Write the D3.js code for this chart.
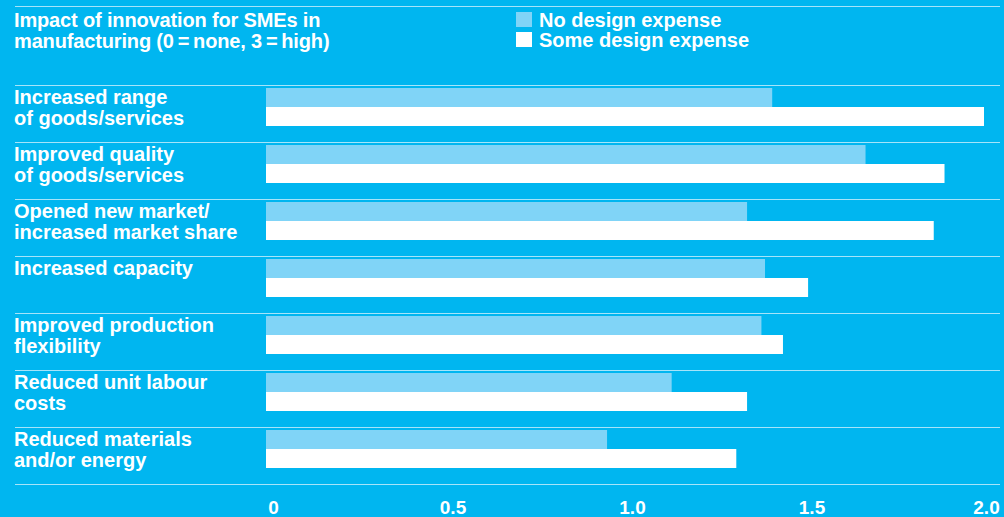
<!DOCTYPE html>
<html>
<head>
<meta charset="utf-8">
<script src="https://cdn.jsdelivr.net/npm/d3@7"></script>
<style>
  body { margin: 0; background: #00b6f0; }
  text { font-family: "Liberation Sans", Arial, sans-serif; font-weight: bold; fill: #fff; }
</style>
</head>
<body>
<script>
var categories = [
  ["Increased range", "of goods/services"],
  ["Improved quality", "of goods/services"],
  ["Opened new market/", "increased market share"],
  ["Increased capacity"],
  ["Improved production", "flexibility"],
  ["Reduced unit labour", "costs"],
  ["Reduced materials", "and/or energy"]
];
var noDesign = [1.41, 1.67, 1.34, 1.39, 1.38, 1.13, 0.95];
var someDesign = [2.00, 1.89, 1.86, 1.51, 1.44, 1.34, 1.31];
var ticks = [0, 0.5, 1.0, 1.5, 2.0];
var seriesNames = ["No design expense", "Some design expense"];

var cols = ["#80d4f7", "#ffffff"];
var lineCol = "#a6e4fa";

var W = 1004, H = 517;
var svg = d3.select('body').append('svg')
  .attr('width', W)
  .attr('height', H);

svg.append('rect').attr('width', W).attr('height', H).attr('fill', '#00b6f0');

var x = d3.scaleLinear()
  .domain([0, 2])
  .range([266, 984]);

var groupTop = 85, groupH = 57;
var y = d3.scaleBand()
  .domain(d3.range(categories.length))
  .range([groupTop, groupTop + groupH * categories.length]);

// top rule
svg.append('line')
  .attr('x1', 15).attr('x2', 1000)
  .attr('y1', 6.5).attr('y2', 6.5)
  .attr('stroke', lineCol).attr('stroke-width', 1.2);

// title
var title = svg.append('text')
  .attr('x', 14).attr('y', 27)
  .style('font-size', '20px')
  .style('letter-spacing', '-0.15px');
title.append('tspan').attr('x', 14).text('Impact of innovation for SMEs in');
title.append('tspan').attr('x', 14).attr('dy', 21).text('manufacturing (0\u2009=\u2009none, 3\u2009=\u2009high)');

// legend
var legend = svg.append('g')
  .selectAll('g')
  .data(seriesNames)
  .enter().append('g')
  .attr('transform', function (d, i) { return 'translate(516,' + (12 + i * 20) + ')'; });

legend.append('rect')
  .attr('width', 16)
  .attr('height', 15)
  .attr('fill', function (d, i) { return cols[i]; });

legend.append('text')
  .attr('x', 23)
  .attr('y', 15)
  .style('font-size', '20px')
  .text(function (d) { return d; });

// separator rules
svg.append('g')
  .selectAll('line')
  .data(d3.range(categories.length + 1))
  .enter().append('line')
  .attr('x1', 15).attr('x2', 1000)
  .attr('y1', function (d) { return groupTop + d * groupH + 0.5; })
  .attr('y2', function (d) { return groupTop + d * groupH + 0.5; })
  .attr('stroke', lineCol)
  .attr('stroke-width', 1.2);

var rows = svg.append('g')
  .selectAll('g')
  .data(categories)
  .enter().append('g')
  .attr('transform', function (d, i) { return 'translate(0,' + y(i) + ')'; });

rows.append('rect')
  .attr('x', x(0))
  .attr('y', 3)
  .attr('height', 19)
  .attr('width', function (d, i) { return x(noDesign[i]) - x(0); })
  .attr('fill', cols[0]);

rows.append('rect')
  .attr('x', x(0))
  .attr('y', 22)
  .attr('height', 19)
  .attr('width', function (d, i) { return x(someDesign[i]) - x(0); })
  .attr('fill', cols[1]);

var lab = rows.append('text')
  .attr('y', 19)
  .style('font-size', '20px');

lab.selectAll('tspan')
  .data(function (d) { return d; })
  .enter().append('tspan')
  .attr('x', 14)
  .attr('dy', function (d, i) { return i === 0 ? 0 : 21; })
  .text(function (d) { return d; });

// x axis labels
var axis = svg.append('g')
  .attr('transform', 'translate(0,' + 484 + ')')
  .call(d3.axisBottom(x)
    .tickValues(ticks)
    .tickSize(0)
    .tickPadding(0)
    .tickFormat(function (d) { return d === 0 ? '0' : d3.format('.1f')(d); }));

axis.select('.domain').remove();
axis.selectAll('.tick text')
  .attr('fill', '#fff')
  .attr('y', 30)
  .attr('dy', 0)
  .attr('dx', function (d) { return d === 2 ? 2 : 7; })
  .style('font-family', '"Liberation Sans Narrow", "Liberation Sans", Arial, sans-serif')
  .style('font-weight', 'bold')
  .style('font-size', '19px');
</script>
</body>
</html>
